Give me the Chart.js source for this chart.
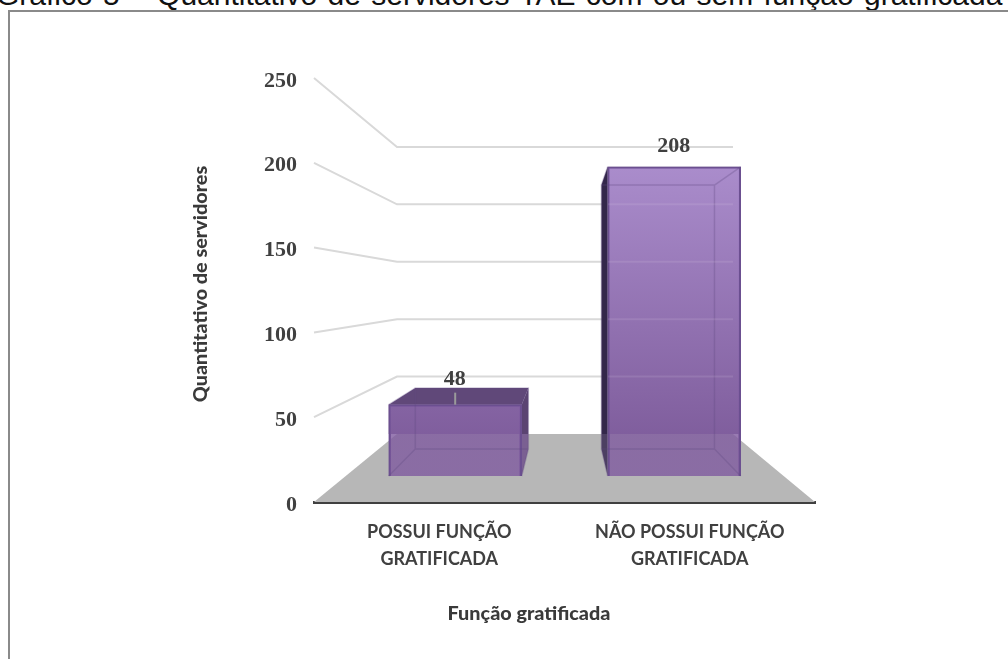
<!DOCTYPE html>
<html lang="pt">
<head>
<meta charset="utf-8">
<title>Quantitativo de servidores</title>
<script src="https://cdn.jsdelivr.net/npm/chart.js@4"></script>
<style>
    html, body { margin: 0; padding: 0; background: #fff; overflow: hidden; }
    #page { position: relative; width: 1008px; height: 659px; overflow: hidden; }
    #heading {
        position: absolute; left: -4px; top: -22px; white-space: nowrap;
        font: 30px "Liberation Sans", sans-serif; color: #111; word-spacing: 2px;
    }
    #frame {
        position: absolute; left: 8px; top: 10px; width: 1100px; height: 800px;
        border: 2.5px solid #8a8a8a;
    }
    #chart { position: absolute; left: 0; top: 0; }
</style>
</head>
<body>
<div id="page">
    <div id="heading">Gráfico 5 – Quantitativo de servidores TAE com ou sem função gratificada</div>
    <div id="frame"></div>
    <canvas id="chart" width="1008" height="659"></canvas>
</div>
<script>
const categories = [["POSSUI FUNÇÃO", "GRATIFICADA"], ["NÃO POSSUI FUNÇÃO", "GRATIFICADA"]];
const servidores = [48, 208];
const yTicks = [0, 50, 100, 150, 200, 250];
const xAxisTitle = "Função gratificada";
const yAxisTitle = "Quantitativo de servidores";

// floor perspective: how far the back wall sits from the front axis
const floorRise = 68;
const insetLeft = 83;
const insetRight = 82;
const shrink = 0.323;
const barFront = 0.382;
const barBack = 0.78;

// plot box in page pixels
const plot = { left: 314, right: 815, top: 78, bottom: 502 };
const plotW = plot.right - plot.left;
const plotH = plot.bottom - plot.top;

// hidden scales that place the bars on their depth plane
const yMax = yTicks[yTicks.length - 1];
const barPxPerUnit = plotH / yMax * (1 - shrink * barFront);
const barYMin = -(floorRise * barFront) / barPxPerUnit;
const barYMax = barYMin + plotH / barPxPerUnit;
const planeW = plotW - (insetLeft + insetRight) * barFront;
const catW = planeW / categories.length;
const barXMin = 0.5 - insetLeft * barFront / catW;
const barXMax = barXMin + plotW / catW;

function xAt(px, fromT, toT) {
    let f = (px - plot.left - insetLeft * fromT) / (plotW - (insetLeft + insetRight) * fromT);
    return plot.left + insetLeft * toT + f * (plotW - (insetLeft + insetRight) * toT);
}

function yAt(chart, value, t) {
    let front = chart.scales.y.getPixelForValue(value);
    return plot.bottom - floorRise * t - (plot.bottom - front) * (1 - shrink * t);
}

function poly(ctx, pts) {
    ctx.beginPath();
    pts.forEach((p, i) => i ? ctx.lineTo(p[0], p[1]) : ctx.moveTo(p[0], p[1]));
    ctx.closePath();
}

// fills a face with one colour above the floor's back edge and another below it
function fillZones(ctx, pts, above, below) {
    let edge = plot.bottom - floorRise;
    ctx.save();
    poly(ctx, pts);
    ctx.clip();
    ctx.fillStyle = above;
    ctx.fillRect(0, 0, 1008, edge);
    ctx.fillStyle = below;
    ctx.fillRect(0, edge, 1008, 659 - edge);
    ctx.restore();
}

function wallLines(chart, color, fromX) {
    let ctx = chart.ctx;
    let backLeft = plot.left + insetLeft;
    let backRight = plot.right - insetRight;
    ctx.save();
    ctx.strokeStyle = color;
    ctx.lineWidth = 2;
    yTicks.slice(1).forEach(v => {
        let yb = yAt(chart, v, 1);
        ctx.beginPath();
        if (fromX === undefined) {
            ctx.moveTo(plot.left, chart.scales.y.getPixelForValue(v));
            ctx.lineTo(backLeft, yb);
        } else {
            ctx.moveTo(fromX, yb);
        }
        ctx.lineTo(backRight, yb);
        ctx.stroke();
    });
    ctx.restore();
}

const roomPlugin = {
    id: "room",
    beforeDatasetsDraw(chart) {
        let ctx = chart.ctx;
        let back = plot.bottom - floorRise;

        ctx.fillStyle = "#b7b7b7";
        poly(ctx, [[plot.left, plot.bottom], [plot.left + insetLeft, back],
                   [plot.right - insetRight, back], [plot.right, plot.bottom]]);
        ctx.fill();
        wallLines(chart, "#d9d9d9");

        chart.getDatasetMeta(0).data.forEach((bar, i) => {
            let value = servidores[i];
            let fl = bar.x - bar.width / 2, fr = bar.x + bar.width / 2;
            let bl = xAt(fl, barFront, barBack), br = xAt(fr, barFront, barBack);
            let ft = bar.y, fb = bar.base;
            let bt = yAt(chart, value, barBack), bb = yAt(chart, 0, barBack);

            // what shows through the glass above the floor
            ctx.save();
            ctx.beginPath();
            ctx.rect(0, 0, 1008, back);
            ctx.clip();
            ctx.fillStyle = "#857199";
            ctx.fillRect(fl, ft, fr - fl, fb - ft);
            ctx.restore();

            if (bl < fl) {
                fillZones(ctx, [[fl, ft], [bl, bt], [bl, bb], [fl, fb]], "#33274a", "#4c3f62");
            }
            if (br > fr) {
                fillZones(ctx, [[fr, ft], [br, bt], [br, bb], [fr, fb]], "#5b4472", "#7a6092");
            }
            if (bt < ft) {
                ctx.fillStyle = "#604879";
                poly(ctx, [[fl, ft], [bl, bt], [br, bt], [fr, ft]]);
                ctx.fill();
            }
        });
    },
    afterDatasetsDraw(chart) {
        let ctx = chart.ctx;

        chart.getDatasetMeta(0).data.forEach((bar, i) => {
            let value = servidores[i];
            let fl = bar.x - bar.width / 2, fr = bar.x + bar.width / 2;
            let bl = xAt(fl, barFront, barBack), br = xAt(fr, barFront, barBack);
            let ft = bar.y, fb = bar.base;
            let bt = yAt(chart, value, barBack), bb = yAt(chart, 0, barBack);

            // inner edges of the box, seen through the front face
            ctx.save();
            ctx.strokeStyle = "rgba(96, 72, 130, 0.3)";
            ctx.lineWidth = 1.5;
            ctx.beginPath();
            ctx.rect(bl, bt, br - bl, bb - bt);
            [[fl, ft, bl, bt], [fr, ft, br, bt], [fl, fb, bl, bb], [fr, fb, br, bb]].forEach(e => {
                ctx.moveTo(e[0], e[1]);
                ctx.lineTo(e[2], e[3]);
            });
            ctx.stroke();
            ctx.restore();
        });

        // back wall lines stay faintly visible through the tall bar
        let tall = chart.getDatasetMeta(0).data[1];
        ctx.save();
        ctx.beginPath();
        ctx.rect(0, tall.y + 20, 1008, 659);
        ctx.clip();
        wallLines(chart, "rgba(225, 215, 235, 0.14)", tall.x - tall.width / 2);
        ctx.restore();

        // value labels
        chart.getDatasetMeta(0).data.forEach((bar, i) => {
            let lift = i === 0 ? 25 : 20;
            if (i === 0) {
                ctx.strokeStyle = "#9a9a9a";
                ctx.lineWidth = 2;
                ctx.beginPath();
                ctx.moveTo(bar.x, bar.y - 12);
                ctx.lineTo(bar.x, bar.y);
                ctx.stroke();
            }
            ctx.fillStyle = "#404040";
            ctx.font = "bold 22px 'Liberation Serif', serif";
            ctx.textAlign = "center";
            ctx.textBaseline = "middle";
            ctx.fillText(String(servidores[i]), bar.x - 0.5, bar.y - lift);
        });

        // axis titles sit off the axis centre, so they are placed by hand
        ctx.save();
        ctx.fillStyle = "#3a3a3a";
        ctx.font = "900 19.8px Lato, 'Open Sans', sans-serif";
        ctx.textAlign = "center";
        ctx.textBaseline = "middle";
        ctx.fillText(xAxisTitle, 529, 614);
        ctx.translate(201, 284);
        ctx.rotate(-Math.PI / 2);
        ctx.fillText(yAxisTitle, 0, 0);
        ctx.restore();
    }
};

// front face gets lighter towards the top of the tall bar
function frontGradient(context) {
    let chart = context.chart;
    if (!chart.chartArea) return "#7f5a9f";
    let yb = chart.scales.yBar;
    let top = yb.getPixelForValue(Math.max(...servidores));
    let g = chart.ctx.createLinearGradient(0, top, 0, yb.getPixelForValue(0));
    g.addColorStop(0, "rgba(179, 147, 216, 0.8)");
    g.addColorStop(0.86, "rgba(127, 90, 159, 0.8)");
    g.addColorStop(1, "rgba(127, 90, 159, 0.8)");
    return g;
}

new Chart(document.getElementById("chart"), {
    type: "bar",
    data: {
        labels: categories,
        datasets: [{
            label: yAxisTitle,
            data: servidores.map((v, i) => ({ x: i + 1, y: v })),
            xAxisID: "xBar",
            yAxisID: "yBar",
            backgroundColor: frontGradient,
            borderColor: "#6b4f90",
            borderWidth: 2,
            barThickness: 133
        }]
    },
    options: {
        responsive: false,
        animation: false,
        layout: { padding: { left: 0, right: 1008 - plot.right, top: plot.top, bottom: 0 } },
        plugins: { legend: { display: false }, title: { display: false }, tooltip: { enabled: false } },
        scales: {
            x: {
                type: "category",
                offset: true,
                grid: { display: false, drawTicks: false },
                border: { display: true, color: "#404040", width: 3 },
                afterFit(scale) { scale.height = 659 - plot.bottom; },
                ticks: {
                    color: "#404040",
                    padding: 17,
                    maxRotation: 0,
                    font: { family: "Lato, 'Open Sans', sans-serif", weight: "bold", size: 18, lineHeight: 1.5 }
                }
            },
            y: {
                type: "linear",
                min: 0,
                max: yMax,
                grid: { display: false, drawTicks: false },
                border: { display: false },
                afterFit(scale) { scale.width = plot.left; },
                afterBuildTicks(scale) { scale.ticks = yTicks.map(v => ({ value: v })); },
                ticks: {
                    color: "#404040",
                    padding: 17,
                    labelOffset: 3,
                    font: { family: "'Liberation Serif', serif", weight: "bold", size: 22 }
                }
            },
            xBar: { type: "linear", display: false, position: "bottom", offset: false, min: barXMin, max: barXMax },
            yBar: { type: "linear", display: false, position: "left", min: barYMin, max: barYMax }
        }
    },
    plugins: [roomPlugin]
});
</script>
</body>
</html>
